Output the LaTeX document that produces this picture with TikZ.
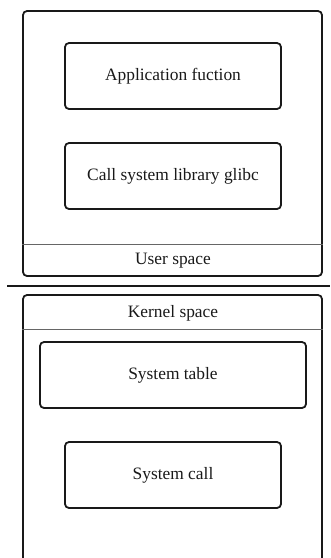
\documentclass[tikz,border=0pt]{standalone}
\usepackage{fontspec}
\setmainfont{Liberation Serif}
\begin{document}
\begin{tikzpicture}[x=1pt,y=-1pt,
  frame/.style={draw=black!90, line width=1.8pt, rounded corners=4pt, inner sep=0pt},
  boxn/.style={draw=black!90, line width=1.8pt, rounded corners=4pt, minimum height=66pt, font=\fontsize{17.4}{20}\selectfont, text=black!90},
  lbl/.style={font=\fontsize{17.4}{20}\selectfont, text=black!90, inner sep=0pt},
  band/.style={draw=black!60, line width=0.8pt}]
\useasboundingbox (0,0) rectangle (330,558);
\clip (0,0) rectangle (330,558);
% upper
\node[frame, minimum width=299pt, minimum height=265pt] (upper) at (172.5,143.5) {};
\node[boxn, minimum width=216pt] (app) at (173,76) {Application fuction};
\node[boxn, minimum width=216pt] (call) at (173,176) {Call system library glibc};
\coordinate (ub) at (0,244);
\draw[band] (upper.west |- ub) -- (upper.east |- ub);
\node[lbl] (user) at (173,261) {User space};
% separator
\coordinate (sepl) at (7,286);
\coordinate (sepr) at (330,286);
\draw[line width=1.8pt, black!90] (sepl) -- (sepr);
% lower
\node[frame, minimum width=299pt, minimum height=267pt] (lower) at (172.5,428.5) {};
\coordinate (kb) at (0,329);
\draw[band] (lower.west |- kb) -- (lower.east |- kb);
\node[lbl] (kernel) at (173,313) {Kernel space};
\node[boxn, minimum width=266pt] (table) at (173,375) {System table};
\node[boxn, minimum width=216pt] (syscall) at (173,475) {System call};
\end{tikzpicture}
\end{document}
